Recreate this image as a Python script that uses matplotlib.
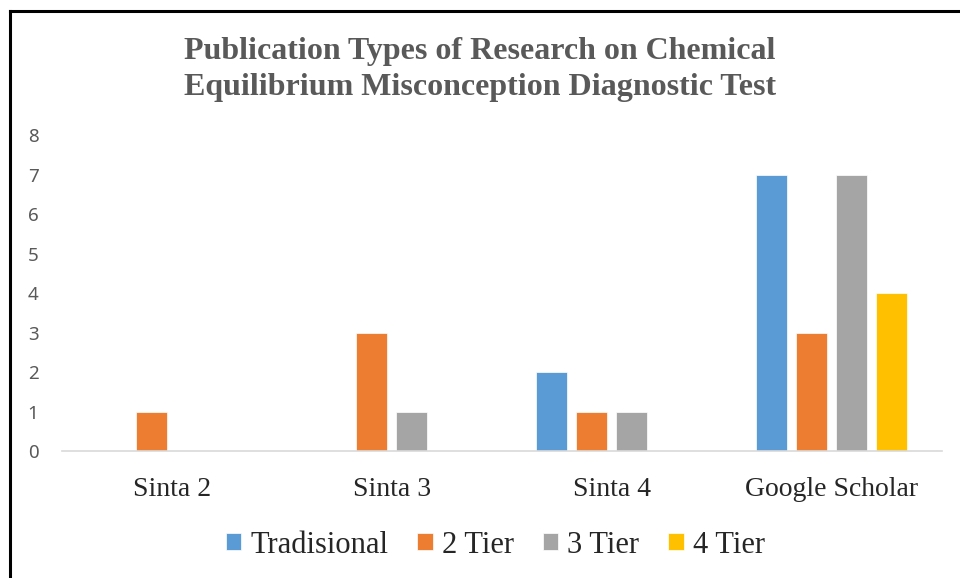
import matplotlib
matplotlib.use("Agg")
import matplotlib.pyplot as plt
from matplotlib.lines import Line2D
import numpy as np

categories = ["Sinta 2", "Sinta 3", "Sinta 4", "Google Scholar"]
series_names = ["Tradisional", "2 Tier", "3 Tier", "4 Tier"]
tradisional = [0, 0, 2, 7]
tier2 = [1, 3, 1, 3]
tier3 = [0, 1, 1, 7]
tier4 = [0, 0, 0, 4]
colors = ["#5B9BD5", "#ED7D31", "#A5A5A5", "#FFC000"]

fig = plt.figure(figsize=(9.6, 5.78), dpi=100)
ax = fig.add_axes([0.0646, 0.2197, 0.9164, 0.5467])

x = np.arange(len(categories))
step = 0.182
width = 0.141
for i, (vals, name) in enumerate(zip([tradisional, tier2, tier3, tier4], series_names)):
    ax.bar(x + (i - 1.5) * step, vals, width, color=colors[i], label=name,
           edgecolor="white", linewidth=0.5)

ax.set_xlim(-0.5, 3.5)
ax.set_ylim(0, 8)
ax.set_yticks(range(9))
for s in ["top", "right", "left"]:
    ax.spines[s].set_visible(False)
ax.spines["bottom"].set_color("#D9D9D9")
ax.spines["bottom"].set_linewidth(1.2)
ax.tick_params(axis="both", length=0)
ax.tick_params(axis="y", labelsize=13.5, labelcolor="#595959", pad=17)
ax.set_xticks(x)
ax.set_xticklabels(categories, family="Liberation Serif", fontsize=20, color="#262626")
ax.tick_params(axis="x", pad=19)
for t in ax.get_yticklabels():
    t.set_family("Noto Sans")

fig.text(0.5, 0.880, "Publication Types of Research on Chemical\nEquilibrium Misconception Diagnostic Test",
         ha="center", va="center", family="Liberation Serif", fontweight="bold",
         fontsize=23, color="#595959", linespacing=1.3)

leg = fig.legend(loc="center", bbox_to_anchor=(0.516, 0.057), ncol=4, frameon=False,
                 prop={"family": "Liberation Serif", "size": 22},
                 handlelength=0.5, handleheight=0.5, handletextpad=0.3, columnspacing=0.95)
for t in leg.get_texts():
    t.set_color("#262626")

# outer frame (right and bottom edges fall outside the image)
fig.add_artist(Line2D([0.0104, 1.0], [0.9818, 0.9818], color="black", linewidth=2.2,
                      transform=fig.transFigure))
fig.add_artist(Line2D([0.0104, 0.0104], [0.0, 0.9818], color="black", linewidth=2.2,
                      transform=fig.transFigure))

fig.savefig("out.png", dpi=100, facecolor="white")
